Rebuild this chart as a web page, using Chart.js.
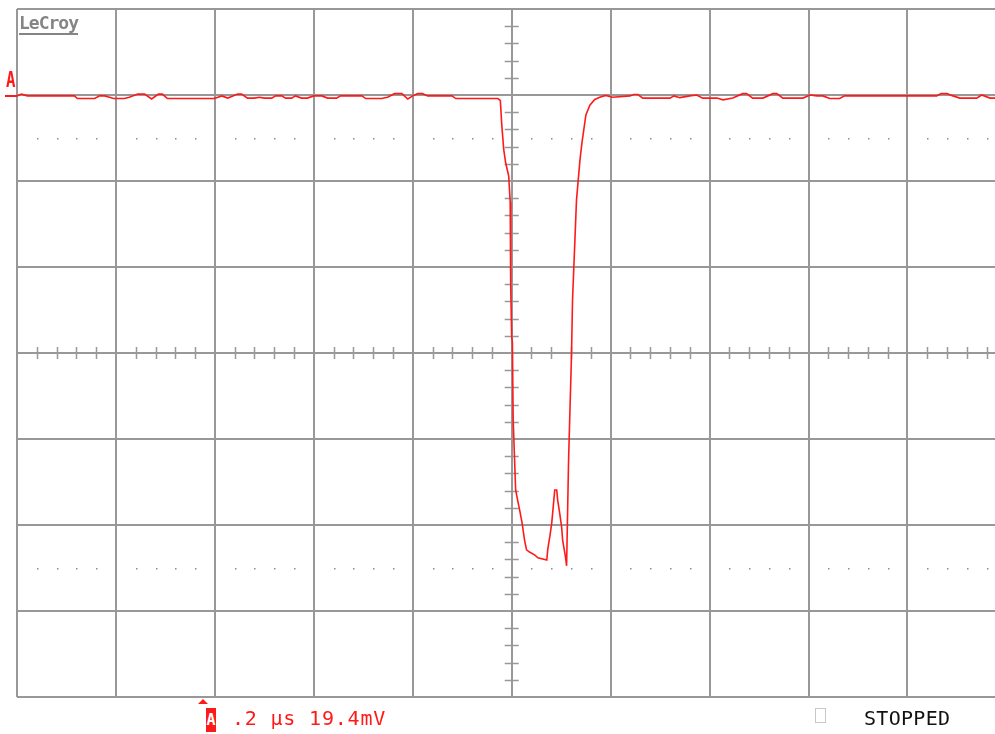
<!DOCTYPE html>
<html>
<head>
<meta charset="utf-8">
<script src="https://cdn.jsdelivr.net/npm/chart.js@4.4.1/dist/chart.umd.min.js"></script>
<style>
  html, body { margin: 0; padding: 0; background: #fff; overflow: hidden; }
  #wrap { position: relative; width: 995px; height: 734px; }
  #scope { position: absolute; left: 0; top: 0; }
  .lbl { position: absolute; font-family: "DejaVu Sans Mono", monospace; white-space: pre; }
</style>
</head>
<body>
<div id="wrap">
  <canvas id="scope" width="995" height="734"></canvas>
  <div class="lbl" id="brand" style="left:19px;top:12px;font-size:18px;font-weight:bold;color:#858585;border-bottom:2px solid #858585;line-height:21px;letter-spacing:-1px;">LeCroy</div>
  <div class="lbl" id="chA" style="left:6px;top:68px;font-size:21px;font-weight:bold;color:#ff1a1a;line-height:25px;transform:scaleX(0.75);transform-origin:left;">A</div>
  <div style="position:absolute;left:5px;top:95px;width:12px;height:2px;background:#ff1a1a;"></div>
  <div style="position:absolute;left:198px;top:699px;width:0;height:0;border-left:5px solid transparent;border-right:5px solid transparent;border-bottom:5px solid #ff1a1a;"></div>
  <div class="lbl" style="left:206px;top:708px;width:10px;height:24px;background:#ff1a1a;color:#fff;font-size:15px;font-weight:bold;line-height:24px;text-align:center;overflow:hidden;">A</div>
  <div class="lbl" id="scale" style="left:232px;top:706px;font-size:20px;color:#ff1a1a;line-height:24px;letter-spacing:0.8px;">.2 µs 19.4mV</div>
  <div style="position:absolute;left:815px;top:708px;width:9px;height:13px;border:1px solid #c8c8c8;"></div>
  <div class="lbl" id="state" style="left:864px;top:706px;font-size:20px;color:#111;line-height:24px;letter-spacing:0.3px;">STOPPED</div>
</div>
<script>
// timebase 0.2 us/div (200 ns), 19.4 mV/div, trigger at centre
const timeNs = [
  -1000, -991, -979, -884, -878, -843, -833, -823, -813, -805, -783, -773, -756, -742, -728, -714, -706, -696,
  -601, -586, -574, -554, -546, -534, -520, -510, -500, -485, -477, -465, -457, -445, -437, -425, -413, -400,
  -384, -372, -354, -346, -303, -295, -263, -251, -237, -222, -210, -200, -190, -180, -170, -121, -113, -28,
  -23, -20, -16, -12, -6, -3, -2, 0, 1.4, 3, 8, 12, 16, 21, 26, 30, 36, 47, 53, 71, 73, 77, 81, 83, 87, 91, 93,
  97, 101, 103, 109, 111, 113, 115, 121, 123, 127, 131, 138, 142, 150, 158, 168, 178, 190, 204,
  239, 247, 255, 265, 320, 328, 340, 360, 374, 386, 415, 427, 447, 467, 475, 487, 508, 528, 536, 548, 589,
  603, 617, 629, 643, 663, 673, 859, 868, 880, 892, 906, 940, 950, 967, 977
];
const chanA_mV = [
  58.0, 58.4, 58.0, 58.0, 57.4, 57.4, 58.0, 58.0, 57.7, 57.4, 57.4, 57.7, 58.4, 58.4, 57.3, 58.4, 58.4, 57.4,
  57.4, 58.0, 57.5, 58.4, 58.4, 57.5, 57.5, 57.7, 57.5, 57.5, 58.0, 58.0, 57.5, 57.5, 58.0, 57.5, 57.5, 58.0,
  58.0, 57.5, 57.5, 58.0, 58.0, 57.4, 57.4, 57.7, 58.5, 58.5, 57.3, 58.0, 58.5, 58.5, 58.0, 58.0, 57.4, 57.4,
  57.0, 51.4, 45.8, 42.8, 39.9, 34.0, 15.3, 3.6, 2.5, -15.1, -30.9, -33.2, -35.4, -38.3, -42.2, -44.4, -44.9, -45.6, -46.2, -46.7, -44.2, -41.5, -38.3, -35.9, -30.9, -30.9, -33.2,
  -36.1, -39.3, -42.2, -46.2, -48.0, -36.1, -24.1, 0.0, 12.0, 23.2, 34.5, 43.5, 47.4, 53.7, 55.9, 57.2, 57.7, 58.1, 57.7,
  58.0, 58.3, 58.3, 57.5, 57.5, 58.0, 57.6, 58.0, 58.2, 57.5, 57.5, 57.1, 57.5, 58.5, 58.5, 57.5, 57.5, 58.5, 58.5, 57.5, 57.5,
  58.2, 58.0, 58.0, 57.4, 57.4, 58.0, 58.0, 58.5, 58.5, 58.0, 57.5, 57.5, 58.2, 57.5, 57.5
];
const xDivNs = [-1000, -800, -600, -400, -200, 0, 200, 400, 600, 800];
const yDivMv = [-77.6, -58.2, -38.8, -19.4, 0, 19.4, 38.8, 58.2, 77.6];
const dotRowsMv = [48.5, -48.5];

const gridGrey = 'rgb(152,152,152)';

// centre cross minor ticks and dotted rows
const graticule = {
  id: 'graticule',
  beforeDatasetsDraw(chart) {
    const ctx = chart.ctx;
    const xs = chart.scales.x, ys = chart.scales.y;
    const cx = xs.getPixelForValue(0), cy = ys.getPixelForValue(0);
    ctx.save();
    ctx.strokeStyle = gridGrey;
    ctx.lineWidth = 1.5;
    ctx.beginPath();
    for (let t = -1000; t <= 1000; t += 40) {
      if (t % 200 === 0) continue;
      const px = Math.round(xs.getPixelForValue(t)) + 0.5;
      ctx.moveTo(px, cy - 6); ctx.lineTo(px, cy + 6);
    }
    for (let i = -20; i <= 20; i++) {
      if (i % 5 === 0) continue;
      const py = Math.round(ys.getPixelForValue(i * 3.88)) + 0.5;
      ctx.moveTo(cx - 7, py); ctx.lineTo(cx + 7, py);
    }
    ctx.stroke();
    ctx.fillStyle = 'rgb(140,140,140)';
    dotRowsMv.forEach(v => {
      const py = Math.round(ys.getPixelForValue(v));
      for (let t = -1000; t <= 1000; t += 40) {
        if (t % 200 === 0) continue;
        const px = Math.round(xs.getPixelForValue(t));
        ctx.fillRect(px, py, 1.5, 1.5);
      }
    });
    ctx.restore();
  }
};

new Chart(document.getElementById('scope'), {
  type: 'line',
  data: {
    datasets: [{
      label: 'A',
      data: timeNs.map((t, i) => ({ x: t, y: chanA_mV[i] })),
      borderColor: '#ff1a1a',
      borderWidth: 1.6,
      pointRadius: 0,
      tension: 0,
      fill: false
    }]
  },
  options: {
    responsive: false,
    animation: false,
    layout: { padding: { left: 17, top: 9, right: 0, bottom: 37 } },
    plugins: { legend: { display: false }, tooltip: { enabled: false } },
    scales: {
      x: {
        type: 'linear',
        min: -1000,
        max: 977,
        afterBuildTicks: s => { s.ticks = xDivNs.map(v => ({ value: v })); },
        ticks: { display: false },
        grid: { color: gridGrey, lineWidth: 2, drawTicks: false, tickLength: 0 },
        border: { display: false }
      },
      y: {
        type: 'linear',
        min: -77.6,
        max: 77.6,
        afterBuildTicks: s => { s.ticks = yDivMv.map(v => ({ value: v })); },
        ticks: { display: false },
        grid: { color: gridGrey, lineWidth: 2, drawTicks: false, tickLength: 0 },
        border: { display: false }
      }
    }
  },
  plugins: [graticule]
});
</script>
</body>
</html>
